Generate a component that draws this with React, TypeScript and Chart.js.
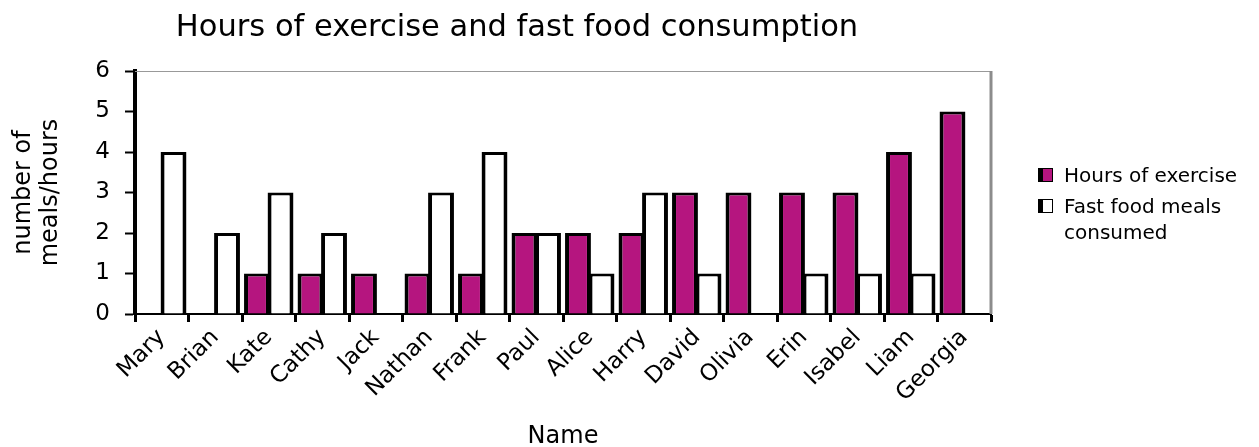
import React, { useEffect, useRef } from 'react';
import { Chart, registerables } from 'chart.js';

Chart.register(...registerables);

const chartTitle = 'Hours of exercise and fast food consumption';
const names = ['Mary', 'Brian', 'Kate', 'Cathy', 'Jack', 'Nathan', 'Frank', 'Paul', 'Alice', 'Harry', 'David', 'Olivia', 'Erin', 'Isabel', 'Liam', 'Georgia'];
const exerciseHours = [0, 0, 1, 1, 1, 1, 1, 2, 2, 2, 3, 3, 3, 3, 4, 5];
const fastFoodMeals = [4, 2, 3, 2, 0, 3, 4, 2, 1, 3, 1, 0, 1, 1, 1, 0];
const seriesLabels = ['Hours of exercise', 'Fast food meals consumed'];
const legendLines = [['Hours of exercise'], ['Fast food meals', 'consumed']];
const yAxisTitle = ['number of', 'meals/hours'];
const xAxisTitle = 'Name';
const yMin = 0;
const yMax = 6;

const FONT = '"DejaVu Sans", sans-serif';
const MAGENTA = '#B5157F';

export default function App() {
  const ref = useRef<HTMLCanvasElement>(null);

  useEffect(() => {
    document.body.style.margin = '0';
    const canvas = ref.current!;
    const overlay = {
      id: 'overlay',
      afterDraw(chart: any) {
        const ctx = chart.ctx;
        const a = chart.chartArea;
        ctx.save();
        // frame top and right
        ctx.strokeStyle = '#999999';
        ctx.lineWidth = 1;
        ctx.beginPath();
        ctx.moveTo(a.left, a.top + 0.5);
        ctx.lineTo(a.right, a.top + 0.5);
        ctx.stroke();
        ctx.strokeStyle = '#8c8c8c';
        ctx.lineWidth = 3;
        ctx.beginPath();
        ctx.moveTo(a.right, a.top);
        ctx.lineTo(a.right, a.bottom);
        ctx.stroke();
        // title
        ctx.fillStyle = '#000';
        ctx.font = `30.5px ${FONT}`;
        ctx.textAlign = 'center';
        ctx.textBaseline = 'alphabetic';
        ctx.fillText(chartTitle, 517, 36);
        // legend
        const boxYs = [168, 199];
        ctx.textAlign = 'left';
        ctx.textBaseline = 'alphabetic';
        ctx.font = `20px ${FONT}`;
        chart.data.datasets.forEach((ds: any, i: number) => {
          const y = boxYs[i];
          ctx.fillStyle = '#000';
          ctx.fillRect(1038, y, 15, 14);
          ctx.fillStyle = ds.backgroundColor;
          ctx.fillRect(1043, y + 1, 9, 12);
          ctx.fillStyle = '#000';
          legendLines[i].forEach((t, j) => {
            ctx.fillText(t, 1064, y + 14 + j * 26);
          });
        });
        ctx.restore();
      },
    };

    const bw = { top: 3, left: 4, right: 4, bottom: 0 };
    const chart = new Chart(canvas, {
      type: 'bar',
      data: {
        labels: names,
        datasets: [
          {
            label: seriesLabels[0],
            data: exerciseHours,
            backgroundColor: MAGENTA,
            borderColor: '#000',
            borderWidth: bw,
            categoryPercentage: 0.88,
            barPercentage: 1.1,
          },
          {
            label: seriesLabels[1],
            data: fastFoodMeals,
            backgroundColor: '#FFFFFF',
            borderColor: '#000',
            borderWidth: bw,
            categoryPercentage: 0.88,
            barPercentage: 1.1,
          },
        ],
      },
      options: {
        responsive: false,
        animation: false,
        layout: { padding: { top: 71, right: 268, bottom: 0, left: 0 } },
        plugins: {
          legend: { display: false },
          title: { display: false },
          tooltip: { enabled: false },
        },
        scales: {
          x: {
            grid: {
              offset: true,
              drawOnChartArea: false,
              tickLength: 8,
              tickWidth: 3,
              tickColor: '#000',
            },
            border: { color: '#000', width: 2 },
            ticks: {
              color: '#000',
              font: { family: FONT, size: 23 },
              maxRotation: 45,
              minRotation: 45,
              padding: 2,
              autoSkip: false,
            },
            title: {
              display: true,
              text: xAxisTitle,
              color: '#000',
              font: { family: FONT, size: 24, lineHeight: 0.85 },
              padding: { top: 0, bottom: 0 },
            },
            afterFit: (s: any) => { s.height = 133; },
          },
          y: {
            min: yMin,
            max: yMax,
            grid: {
              drawOnChartArea: false,
              tickLength: 10,
              tickWidth: 2,
              tickColor: '#000',
            },
            border: { color: '#000', width: 4 },
            ticks: {
              stepSize: 1,
              color: '#000',
              font: { family: FONT, size: 23 },
              padding: 15,
            },
            title: {
              display: true,
              text: yAxisTitle,
              color: '#000',
              font: { family: FONT, size: 24, lineHeight: 1.1 },
              padding: { top: 11, bottom: 0 },
            },
            afterFit: (s: any) => { s.width = 135; },
          },
        },
      },
      plugins: [overlay],
    } as any);
    return () => chart.destroy();
  }, []);

  return (
    <div style={{ width: 1259, height: 447 }}>
      <canvas ref={ref} width={1259} height={447} />
    </div>
  );
}
